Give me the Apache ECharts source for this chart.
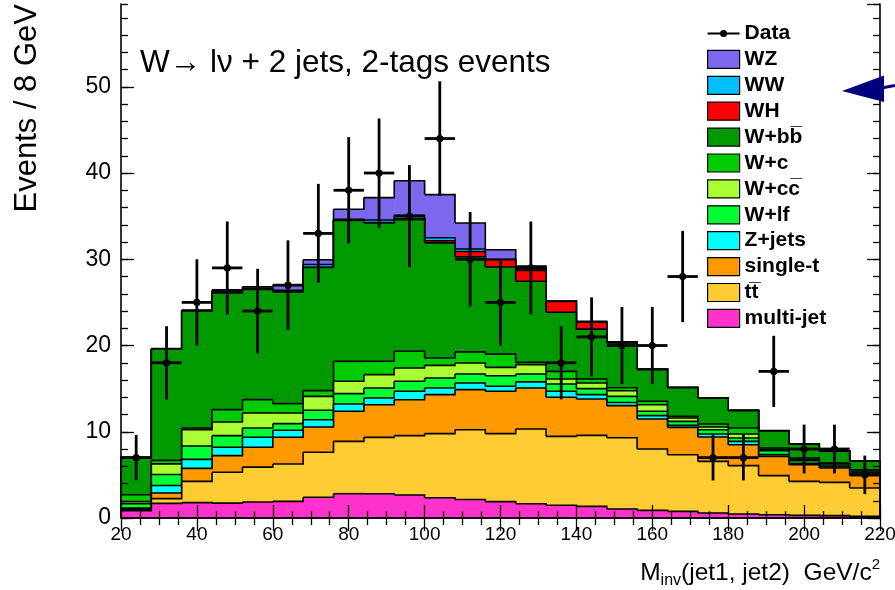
<!DOCTYPE html>
<html>
<head>
<meta charset="utf-8">
<script src="https://cdn.jsdelivr.net/npm/echarts@6/dist/echarts.min.js"></script>
<style>
  html, body { margin: 0; padding: 0; background: #ffffff; }
  #chart { width: 895px; height: 590px; }
</style>
</head>
<body>
<div id="chart"></div>
<script>
// Dijet invariant mass, W -> l nu + 2 jets with two b-tags, 8 GeV bins
const binLow = [20, 28, 36, 44, 52, 60, 68, 76, 84, 92, 100, 108, 116, 124, 132, 140, 148, 156, 164, 172, 180, 188, 196, 204, 212];
const binWidth = 8;

// observed events per bin
const dataCounts = [7, 18, 25, 29, 24, 27, 33, 38, 40, 35, 44, 30, 25, 29, 18, 21, 20, 20, 28, 7, 7, 17, 8, 8, 5];

// expected contributions per bin (bottom of the stack first)
const multiJet  = [0.85, 1.70, 1.78, 1.72, 1.86, 1.93, 2.40, 2.82, 2.82, 2.66, 2.35, 2.15, 1.90, 1.66, 1.47, 1.35, 1.05, 0.88, 0.77, 0.58, 0.46, 0.38, 0.31, 0.27, 0.19];
const ttbar     = [0.10, 0.55, 2.47, 3.58, 4.04, 4.33, 5.22, 6.07, 6.53, 6.89, 7.43, 8.09, 7.88, 8.66, 8.00, 8.23, 8.25, 7.12, 6.57, 5.99, 5.61, 4.53, 3.94, 3.86, 3.29];
const singleTop = [0.10, 0.65, 1.50, 1.93, 2.30, 3.10, 2.93, 3.48, 3.79, 4.17, 4.52, 4.64, 4.91, 4.76, 4.53, 4.22, 3.73, 3.48, 3.17, 2.83, 2.43, 2.24, 1.93, 1.67, 1.46];
const zJets     = [0.10, 0.87, 1.05, 0.97, 1.16, 0.81, 0.85, 0.85, 0.78, 0.97, 0.78, 0.78, 0.58, 0.70, 0.69, 0.50, 0.37, 0.39, 0.23, 0.34, 0.39, 0.20, 0.17, 0.15, 0.16];
const wLf       = [0.51, 1.28, 1.55, 1.35, 1.08, 0.77, 1.09, 1.20, 1.16, 1.16, 1.16, 1.04, 1.23, 0.92, 0.85, 0.70, 0.70, 0.50, 0.46, 0.50, 0.39, 0.45, 0.30, 0.20, 0.20];
const wCc       = [0.24, 1.23, 1.90, 1.59, 1.74, 1.24, 1.61, 1.43, 1.54, 1.55, 1.46, 1.28, 0.97, 1.08, 0.58, 0.66, 0.65, 0.77, 0.40, 0.32, 0.46, 0.15, 0.15, 0.15, 0.15];
const wC        = [0.80, 0.40, 0.19, 1.43, 1.55, 1.08, 0.67, 2.32, 1.55, 1.93, 0.86, 1.28, 1.53, 0.27, 0.88, 0.46, 0.35, 0.39, 0.19, 0.34, 0.70, 0.17, 0.16, 0.08, 0.15];
const wBb       = [4.30, 12.92, 13.56, 13.53, 12.77, 12.94, 14.28, 16.33, 16.03, 15.27, 13.34, 11.04, 10.10, 9.40, 6.85, 5.78, 5.20, 3.67, 3.31, 3.00, 2.01, 1.98, 1.59, 1.37, 1.00];
const wH        = [0, 0, 0, 0, 0, 0, 0.02, 0.03, 0.05, 0.10, 0.25, 0.60, 0.86, 1.25, 1.25, 0.80, 0.10, 0.05, 0.03, 0.02, 0.02, 0.01, 0.01, 0.01, 0.01];
const wW        = [0, 0.02, 0.05, 0.20, 0.10, 0.20, 0.33, 0.10, 0.30, 0.40, 0.35, 0.30, 0.04, 0.05, 0.02, 0.02, 0.01, 0.01, 0.01, 0.01, 0.01, 0.01, 0.01, 0.01, 0.01];
const wZ        = [0, 0.02, 0.05, 0.15, 0.20, 0.60, 0.55, 1.17, 2.60, 4.00, 5.00, 3.00, 1.10, 0.45, 0.05, 0.10, 0.02, 0.01, 0.01, 0.01, 0.01, 0.01, 0.01, 0.01, 0.01];

const xTicks = [20, 40, 60, 80, 100, 120, 140, 160, 180, 200, 220];
const yTicks = [0, 10, 20, 30, 40, 50];

// stack components, bottom to top
const components = [
  { name: 'multi-jet',   color: '#ff33cc', values: multiJet },
  { name: 'tt\u0305',    color: '#ffcc33', values: ttbar },
  { name: 'single-t',    color: '#ff9900', values: singleTop },
  { name: 'Z+jets',      color: '#00ffff', values: zJets },
  { name: 'W+lf',        color: '#00ff33', values: wLf },
  { name: 'W+cc\u0305',  color: '#aaff33', values: wCc },
  { name: 'W+c',         color: '#00cc00', values: wC },
  { name: 'W+bb\u0305',  color: '#009900', values: wBb },
  { name: 'WH',          color: '#ff0000', values: wH },
  { name: 'WW',          color: '#00bfff', values: wW },
  { name: 'WZ',          color: '#7b68ee', values: wZ }
];

const FONT = "'Liberation Sans', Arial, Helvetica, sans-serif";

// running sums so that each histogram is drawn from zero up to its stacked height
let running = binLow.map(() => 0);
components.forEach(c => {
  running = running.map((v, i) => v + c.values[i]);
  c.cumulative = running.slice();
});

function stackSeries(comp, zIndex) {
  const cum = comp.cumulative;
  const rows = binLow.map((lo, i) => [lo, lo + binWidth, cum[i], i + 1 < cum.length ? cum[i + 1] : 0]);
  return {
    type: 'custom',
    name: comp.name,
    xAxisIndex: 0,
    yAxisIndex: 0,
    z: zIndex,
    silent: true,
    animation: false,
    itemStyle: { color: comp.color },
    encode: { x: [0, 1], y: [2] },
    data: rows,
    renderItem(params, api) {
      const lo = api.value(0), hi = api.value(1), top = api.value(2), next = api.value(3);
      const pBase = api.coord([lo, 0]);
      const pTop = api.coord([hi, top]);
      const yNext = api.coord([hi, next])[1];
      const pts = [];
      if (params.dataIndex === 0) pts.push([pBase[0], pBase[1]]);
      pts.push([pBase[0], pTop[1]], [pTop[0], pTop[1]], [pTop[0], yNext]);
      return {
        type: 'group',
        children: [
          {
            type: 'rect',
            z2: 0,
            shape: { x: pBase[0], y: pTop[1], width: pTop[0] - pBase[0] + 0.6, height: pBase[1] - pTop[1] },
            style: { fill: comp.color }
          },
          {
            type: 'polyline',
            z2: 5,
            shape: { points: pts },
            style: { stroke: '#000', lineWidth: 1.6, fill: null }
          }
        ]
      };
    }
  };
}

// THStack style: the tallest cumulative histogram is painted first
const stackOrder = components.slice().reverse();
const series = stackOrder.map((c, k) => stackSeries(c, 2 + k));

series.push({
  type: 'custom',
  name: 'Data',
  xAxisIndex: 0,
  yAxisIndex: 0,
  z: 40,
  silent: true,
  animation: false,
  itemStyle: { color: '#000' },
  encode: { x: 0, y: 1 },
  data: binLow.map((lo, i) => [lo + binWidth / 2, dataCounts[i]]),
  renderItem(params, api) {
    const x = api.value(0), n = api.value(1);
    const err = Math.sqrt(n);
    const c = api.coord([x, n]);
    const l = api.coord([x - binWidth / 2, n]);
    const r = api.coord([x + binWidth / 2, n]);
    const t = api.coord([x, n + err]);
    const b = api.coord([x, Math.max(0, n - err)]);
    const line = { stroke: '#000', lineWidth: 2.8 };
    return {
      type: 'group',
      children: [
        { type: 'line', shape: { x1: l[0], y1: l[1], x2: r[0], y2: r[1] }, style: line },
        { type: 'line', shape: { x1: t[0], y1: t[1], x2: b[0], y2: b[1] }, style: line },
        { type: 'circle', shape: { cx: c[0], cy: c[1], r: 3.6 }, style: { fill: '#000' } }
      ]
    };
  }
});

const axisLine = { show: true, lineStyle: { color: '#000', width: 1.6 } };
const tickLine = { color: '#000', width: 1.3 };

function xAxisDef(pos, showLabels) {
  return {
    type: 'value', position: pos, min: xTicks[0], max: xTicks[xTicks.length - 1], interval: xTicks[1] - xTicks[0],
    z: 30, axisLine,
    axisTick: { show: true, inside: true, length: 13, lineStyle: tickLine },
    minorTick: { show: true, splitNumber: 4, length: 7, lineStyle: tickLine },
    splitLine: { show: false }, minorSplitLine: { show: false },
    axisLabel: { show: showLabels, color: '#000', fontFamily: FONT, fontSize: 19, margin: 7 }
  };
}
const yMax = 59.6;
function yAxisDef(pos, major, showLabels) {
  return {
    type: 'value', position: pos, min: 0, max: yMax, interval: major ? yTicks[1] - yTicks[0] : 2,
    z: 30, axisLine: major ? axisLine : { show: false },
    axisTick: { show: true, inside: true, length: major ? 13 : 7, lineStyle: tickLine },
    splitLine: { show: false },
    axisLabel: { show: showLabels, color: '#000', fontFamily: FONT, fontSize: 23, margin: 10,
                 showMaxLabel: false,
                 formatter: v => (yTicks.indexOf(v) >= 0 ? String(v) : '') }
  };
}

const dataIcon = 'path://M0,0L0.01,0L0.01,0.01Z M31.99,17.99L32,17.99L32,18Z M0,8L32,8L32,10L0,10Z M12.4,9A3.6,3.6,0,1,1,19.6,9A3.6,3.6,0,1,1,12.4,9Z';

const chart = echarts.init(document.getElementById('chart'), null, { renderer: 'canvas' });
chart.setOption({
  animation: false,
  backgroundColor: '#ffffff',
  grid: { left: 121, right: 15, top: 4, bottom: 72, outerBoundsMode: 'none', containLabel: false },
  xAxis: [xAxisDef('bottom', true), xAxisDef('top', false)],
  yAxis: [yAxisDef('left', true, true), yAxisDef('left', false, false),
          yAxisDef('right', true, false), yAxisDef('right', false, false)],
  legend: {
    orient: 'vertical', left: 707, top: 23, padding: 0,
    itemWidth: 32, itemHeight: 18, itemGap: 4.9,
    icon: 'rect', selectedMode: false,
    itemStyle: { borderColor: '#000', borderWidth: 1.2 },
    textStyle: { color: '#000', fontFamily: FONT, fontSize: 21, fontWeight: 'bold' },
    data: [{ name: 'Data', icon: dataIcon, itemStyle: { borderWidth: 0 } }]
      .concat(stackOrder.map(c => c.name))
  },
  series,
  graphic: [
    {
      type: 'text', left: 140, top: 47, z: 50,
      style: { text: 'W\u2192 l\u03bd + 2 jets, 2-tags events', fontFamily: FONT, fontSize: 31.5, fill: '#000' }
    },
    {
      type: 'text', x: 27, y: 4, rotation: Math.PI / 2, z: 50,
      style: { text: 'Events / 8 GeV', fontFamily: FONT, fontSize: 31, fill: '#000', align: 'right', verticalAlign: 'middle' }
    },
    {
      type: 'text', x: 880, y: 573, z: 50,
      style: {
        text: '{m|M}{sub|inv}{m|(jet1, jet2)  GeV/c}{sup|2}',
        align: 'right', verticalAlign: 'middle', fill: '#000', fontFamily: FONT,
        rich: {
          m: { fontSize: 24.5, fontFamily: FONT, fill: '#000', lineHeight: 32, verticalAlign: 'middle' },
          sub: { fontSize: 16, fontFamily: FONT, fill: '#000', lineHeight: 32, verticalAlign: 'bottom' },
          sup: { fontSize: 15, fontFamily: FONT, fill: '#000', lineHeight: 32, verticalAlign: 'top' }
        }
      }
    },
    {
      type: 'polygon', z: 50, silent: true,
      shape: { points: [[842, 91], [884, 75.5], [884, 102]] },
      style: { fill: '#00007f' }
    },
    {
      type: 'line', z: 50, silent: true,
      shape: { x1: 876, y1: 89, x2: 895, y2: 85.5 },
      style: { stroke: '#00007f', lineWidth: 3 }
    }
  ]
});
</script>
</body>
</html>
